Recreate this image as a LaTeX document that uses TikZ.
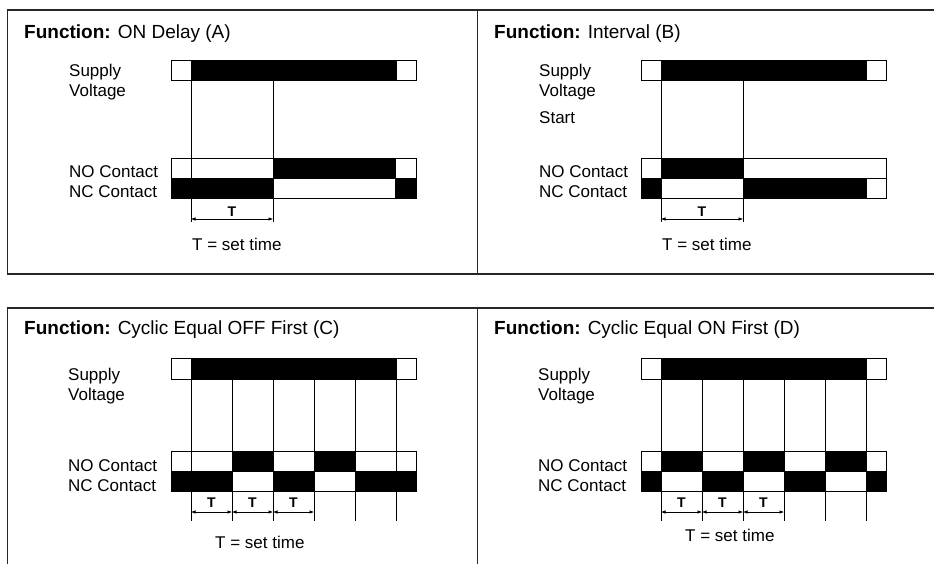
\documentclass[tikz,border=0pt]{standalone}
\usepackage{fontspec}
\setmainfont{Liberation Sans}
\usepackage{tikz}
\usetikzlibrary{calc, arrows.meta, positioning}
\tikzset{
    titlenode/.style = {draw=none, fill=none, inner sep = 0pt, anchor=base west, 
      font=\fontsize{19}{22}\selectfont},
    textnode/.style  = {draw=none, fill=none, inner sep = 0pt, anchor=base west, 
      font=\fontsize{17}{20}\selectfont},
    timenode/.style  = {draw=none, fill=none, inner sep = 0pt, anchor=base, 
      font=\fontsize{14}{16}\selectfont\bfseries},
    offbar/.style = {draw, fill=white, line width=0.9pt},
    onbar/.style = {draw, fill=black, line width=0.9pt},
    timeline/.style = {draw, line width=0.9pt},
    dimline/.style = {{Latex[length=4.5pt,width=3.5pt]}-{Latex[length=4.5pt,width=3.5pt]}, line width=0.6pt},
    framed/.style = {draw=black!85, line width=1.3pt, line join=miter}
}
\newcommand{\fn}[1]{\textbf{Function:} #1}

\begin{document}
\begin{tikzpicture}[x=1pt, y=-1pt]
    \useasboundingbox (0,0) rectangle (934,564);

    % frames
    \draw [framed] (934,10) -- (7.5,10) -- (7.5,274) -- (934,274); 
    \draw [framed] (477.5,10) -- (477.5,274); 
    \draw [framed] (7.5,564) -- (7.5,308) -- (934,308); 
    \draw [framed] (477.5,308) -- (477.5,564); 

    % ON Delay (A)
    \node [name=titleA, titlenode] at (24,39) {\fn{ON Delay (A)}}; 
    \node [name=supA, textnode] at (69,77) {Supply}; 
    \node [name=volA, textnode] at (69,97) {Voltage}; 
    \node [name=noA, textnode] at (69,178) {NO Contact}; 
    \node [name=ncA, textnode] at (69,198) {NC Contact}; 

    \draw [offbar] (171,60) rectangle (416,80); 
    \draw [onbar] (191,60) rectangle (396,80); 
    \draw [offbar] (171,158) rectangle (416,178); 
    \draw [onbar] (273,158) rectangle (395,178); 
    \draw [offbar] (171,178) rectangle (416,198); 
    \draw [onbar] (171,178) rectangle (273,198); 
    \draw [onbar] (395,178) rectangle (416,198); 

    \draw [timeline] (191,80) -- (191,222); 
    \draw [timeline] (273,80) -- (273,222); 

    \coordinate (tA1) at (191,219); 
    \coordinate (tA2) at (273,219); 
    \draw [dimline] (tA1) -- (tA2); 
    \node [name=tA, timenode] at (232,216) {T}; 
    \node [name=setA, textnode] at (192,250) {T = set time}; 

    % Interval (B)
    \node [name=titleB, titlenode] at (494,39) {\fn{Interval (B)}}; 
    \node [name=supB, textnode] at (539,77) {Supply}; 
    \node [name=volB, textnode] at (539,97) {Voltage}; 
    \node [name=startB, textnode] at (539,124) {Start}; 
    \node [name=noB, textnode] at (539,178) {NO Contact}; 
    \node [name=ncB, textnode] at (539,198) {NC Contact}; 

    \draw [offbar] (641,60) rectangle (886,80); 
    \draw [onbar] (661,60) rectangle (866,80); 
    \draw [offbar] (641,158) rectangle (886,178); 
    \draw [onbar] (661,158) rectangle (743,178); 
    \draw [offbar] (641,178) rectangle (886,198); 
    \draw [onbar] (641,178) rectangle (661,198); 
    \draw [onbar] (743,178) rectangle (866,198); 

    \draw [timeline] (661,80) -- (661,222); 
    \draw [timeline] (743,80) -- (743,222); 

    \coordinate (tB1) at (661,219); 
    \coordinate (tB2) at (743,219); 
    \draw [dimline] (tB1) -- (tB2); 
    \node [name=tB, timenode] at (702,216) {T}; 
    \node [name=setB, textnode] at (662,250) {T = set time}; 

    % Cyclic Equal OFF First (C)
    \node [name=titleC, titlenode] at (24,334) {\fn{Cyclic Equal OFF First (C)}}; 
    \node [name=supC, textnode] at (68,380) {Supply}; 
    \node [name=volC, textnode] at (68,400) {Voltage}; 
    \node [name=noC, textnode] at (68,471) {NO Contact}; 
    \node [name=ncC, textnode] at (68,491) {NC Contact}; 

    \draw [offbar] (171,358) rectangle (416,379); 
    \draw [onbar] (191,358) rectangle (396,379); 
    \draw [offbar] (171,451) rectangle (416,471); 
    \draw [onbar] (232,451) rectangle (273,471); 
    \draw [onbar] (314,451) rectangle (355,471); 
    \draw [offbar] (171,471) rectangle (416,491); 
    \draw [onbar] (171,471) rectangle (232,491); 
    \draw [onbar] (273,471) rectangle (314,491); 
    \draw [onbar] (355,471) rectangle (416,491); 

    \draw [timeline] (191,379) -- (191,521); 
    \draw [timeline] (232,379) -- (232,521); 
    \draw [timeline] (273,379) -- (273,521); 
    \draw [timeline] (314,379) -- (314,521); 
    \draw [timeline] (355,379) -- (355,521); 
    \draw [timeline] (396,379) -- (396,521); 

    \coordinate (tC1) at (191,512); 
    \coordinate (tC2) at (232,512); 
    \coordinate (tC3) at (273,512); 
    \coordinate (tC4) at (314,512); 
    \draw [dimline] (tC1) -- (tC2); 
    \draw [dimline] (tC2) -- (tC3); 
    \draw [dimline] (tC3) -- (tC4); 
    \node [name=tC12, timenode] at (211.5,507) {T}; 
    \node [name=tC23, timenode] at (252.5,507) {T}; 
    \node [name=tC34, timenode] at (293.5,507) {T}; 
    \node [name=setC, textnode] at (215,548) {T = set time}; 

    % Cyclic Equal ON First (D)
    \node [name=titleD, titlenode] at (494,334) {\fn{Cyclic Equal ON First (D)}}; 
    \node [name=supD, textnode] at (538,380) {Supply}; 
    \node [name=volD, textnode] at (538,400) {Voltage}; 
    \node [name=noD, textnode] at (538,471) {NO Contact}; 
    \node [name=ncD, textnode] at (538,491) {NC Contact}; 

    \draw [offbar] (641,358) rectangle (886,379); 
    \draw [onbar] (661,358) rectangle (866,379); 
    \draw [offbar] (641,451) rectangle (886,471); 
    \draw [onbar] (661,451) rectangle (702,471); 
    \draw [onbar] (743,451) rectangle (784,471); 
    \draw [onbar] (825,451) rectangle (866,471); 
    \draw [offbar] (641,471) rectangle (886,491); 
    \draw [onbar] (641,471) rectangle (661,491); 
    \draw [onbar] (702,471) rectangle (743,491); 
    \draw [onbar] (784,471) rectangle (825,491); 
    \draw [onbar] (866,471) rectangle (886,491); 

    \draw [timeline] (661,379) -- (661,521); 
    \draw [timeline] (702,379) -- (702,521); 
    \draw [timeline] (743,379) -- (743,521); 
    \draw [timeline] (784,379) -- (784,521); 
    \draw [timeline] (825,379) -- (825,521); 
    \draw [timeline] (866,379) -- (866,521); 

    \coordinate (tD1) at (661,512); 
    \coordinate (tD2) at (702,512); 
    \coordinate (tD3) at (743,512); 
    \coordinate (tD4) at (784,512); 
    \draw [dimline] (tD1) -- (tD2); 
    \draw [dimline] (tD2) -- (tD3); 
    \draw [dimline] (tD3) -- (tD4); 
    \node [name=tD12, timenode] at (681.5,507) {T}; 
    \node [name=tD23, timenode] at (722.5,507) {T}; 
    \node [name=tD34, timenode] at (763.5,507) {T}; 
    \node [name=setD, textnode] at (685,541) {T = set time}; 
\end{tikzpicture}
\end{document}
